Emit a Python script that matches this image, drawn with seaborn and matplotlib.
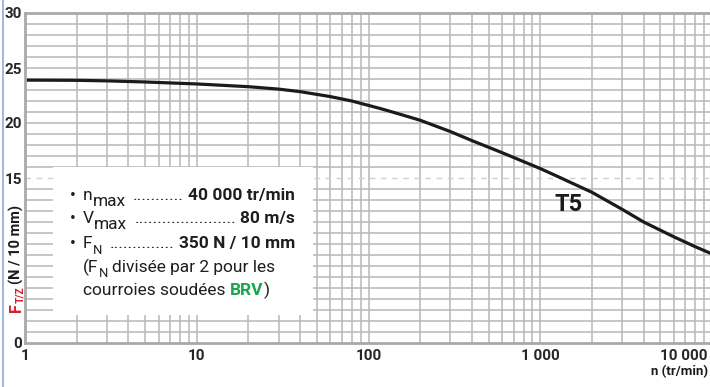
import matplotlib
matplotlib.use("Agg")
import matplotlib.pyplot as plt
from matplotlib import font_manager
from matplotlib.lines import Line2D
from matplotlib.patches import Rectangle
from matplotlib.ticker import LogLocator, NullFormatter
from matplotlib.transforms import ScaledTranslation
import seaborn as sns
import pandas as pd

# Speed (tr/min) and tangential force per tooth (N / 10 mm) for belt T5
speed_rpm = [1, 2, 3, 5, 10, 20, 30, 40, 60, 80, 100, 120, 150, 200, 300,
             400, 600, 1000, 1300, 1500, 2000, 3000, 4000, 6000, 8000, 10000]
force_n = [23.9, 23.88, 23.83, 23.73, 23.55, 23.3, 23.08, 22.85, 22.4, 22.0,
           21.6, 21.27, 20.83, 20.25, 19.22, 18.4, 17.3, 15.86, 15.05, 14.6,
           13.7, 12.15, 11.0, 9.65, 8.75, 8.1]

x_ticks = [1, 10, 100, 1000, 10000]
x_tick_labels = ["1", "10", "100", "1 000", "10 000"]
y_ticks = [0, 15, 20, 25, 30]
y_tick_labels = ["0", "15", "20", "25", "30"]

curve_label = "T5"
spec_lines = [
    ("n", "max", "40 000 tr/min"),
    ("V", "max", "80 m/s"),
    ("F", "N", "350 N / 10 mm"),
]
# gap (px) left between the symbol and its leader dots
dot_gaps = [7, 4, 8]
note_line1 = ("(F", "N", "divisée par 2 pour les")
note_line2 = ("courroies soudées", "BRV", ")")

W, H = 710, 387

sns.set_style("white")


def pick_family():
    for name in ["Liberation Sans Narrow", "Roboto", "Liberation Sans"]:
        try:
            font_manager.findfont(name, fallback_to_default=False)
            return name
        except Exception:
            continue
    return "DejaVu Sans"


FAM = pick_family()
plt.rcParams["font.family"] = [FAM, "DejaVu Sans"]

fig = plt.figure(figsize=(W / 100, H / 100), dpi=100)
fig.patch.set_facecolor("white")

# axes: x from 25 px to 712 px, y from 13 px to 343 px
ax = fig.add_axes([25 / W, (H - 343) / H, 687 / W, 330 / H])
ax.set_facecolor("white")

df = pd.DataFrame({"n": speed_rpm, "F": force_n})
sns.lineplot(data=df, x="n", y="F", ax=ax, color="#1b1b1b", linewidth=2.3,
             zorder=5)

ax.set_xscale("log")
ax.set_xlim(1, 10000)
ax.set_ylim(0, 30)

# grid
grid_col = "#bababa"
for v in range(1, 30):
    if v == 15:
        ax.axhline(v, color="#cfcfcf", lw=1.0, ls=(0, (4, 4)), zorder=1)
    else:
        ax.axhline(v, color=grid_col, lw=1.15, zorder=1)
ax.xaxis.set_minor_locator(LogLocator(base=10, subs=range(2, 10), numticks=20))
ax.xaxis.set_minor_formatter(NullFormatter())
ax.grid(axis="x", which="both", color=grid_col, lw=1.15, zorder=1)
ax.grid(axis="y", which="both", visible=False)
ax.set_axisbelow(True)

# white info panel over the grid
ax.add_patch(Rectangle((28 / 687, 28 / 330), 260 / 687, 148 / 330,
                       transform=ax.transAxes, facecolor="white",
                       edgecolor="none", zorder=3))

for side in ["left", "bottom", "top"]:
    ax.spines[side].set_color("#a9a9a9")
    ax.spines[side].set_linewidth(2.0)
    ax.spines[side].set_zorder(6)
ax.spines["right"].set_visible(False)

ax.set_xticks(x_ticks)
ax.set_xticklabels(x_tick_labels, fontsize=11, fontweight="bold")
ax.set_yticks(y_ticks)
ax.set_yticklabels(y_tick_labels, fontsize=11, fontweight="bold")
ax.tick_params(axis="both", which="both", length=0)
ax.tick_params(axis="x", pad=4.5)
ax.tick_params(axis="y", pad=2)
last = ax.get_xticklabels()[-1]
last.set_horizontalalignment("right")
last.set_transform(last.get_transform()
                   + ScaledTranslation(-4 / 100, 0, fig.dpi_scale_trans))
ax.set_xlabel("")
ax.set_ylabel("")

# curve name
ax.text(1470, 12.55, curve_label, fontsize=17, fontweight="bold",
        ha="center", va="center", color="#1b1b1b", zorder=6)


def px(x, y):
    return x / W, 1 - y / H


fs = 12.5
txt_col = "#1e1e1e"
fig.canvas.draw()
r = fig.canvas.get_renderer()

# average advance of one leader dot
probe = fig.text(0, 0, "." * 40, fontsize=fs)
dot_w = probe.get_window_extent(r).width / 40
probe.remove()

baselines = [200, 223, 248]
for (main, sub, val), yb, gap in zip(spec_lines, baselines, dot_gaps):
    fig.text(*px(70, yb), "•", fontsize=fs, color=txt_col, va="baseline")
    t = fig.text(*px(83, yb), main, fontsize=fs, color=txt_col,
                 va="baseline")
    x = 83 + t.get_window_extent(r).width
    sub_fs = fs if sub == "max" else fs * 0.75
    s = fig.text(*px(x, yb + 6), sub, fontsize=sub_fs, color=txt_col,
                 va="baseline")
    x += s.get_window_extent(r).width + gap
    v = fig.text(*px(295, yb), val, fontsize=fs, fontweight="bold",
                 color=txt_col, ha="right", va="baseline")
    stop = 295 - v.get_window_extent(r).width - 4
    count = max(3, int((stop - x) / dot_w))
    # leader dots end just before the value
    fig.text(*px(stop, yb), "." * count, fontsize=fs, color=txt_col,
             ha="right", va="baseline")

t = fig.text(*px(83, 272), note_line1[0], fontsize=fs, color=txt_col,
             va="baseline")
x = 83 + t.get_window_extent(r).width
s = fig.text(*px(x, 277), note_line1[1], fontsize=fs * 0.75, color=txt_col,
             va="baseline")
x += s.get_window_extent(r).width + 4
fig.text(*px(x, 272), note_line1[2], fontsize=fs, color=txt_col,
         va="baseline")

t = fig.text(*px(83, 295), note_line2[0], fontsize=fs, color=txt_col,
             va="baseline")
x = 83 + t.get_window_extent(r).width + 4
b = fig.text(*px(x, 295), note_line2[1], fontsize=fs, fontweight="bold",
             color="#16a74a", va="baseline")
x += b.get_window_extent(r).width + 1
fig.text(*px(x, 295), note_line2[2], fontsize=fs, color=txt_col,
         va="baseline")

# rotated y-axis title
red = "#d3212d"
f1 = fig.text(*px(21, 312), "F", fontsize=11.5, fontweight="bold", color=red,
              rotation=90, rotation_mode="anchor", ha="left", va="baseline")
y = 312 - f1.get_window_extent(r).height
f2 = fig.text(*px(23, y), "T/Z", fontsize=7.5, fontweight="bold", color=red,
              rotation=90, rotation_mode="anchor", ha="left", va="baseline")
y -= f2.get_window_extent(r).height + 3
fig.text(*px(21, y), "(N / 10 mm)", fontsize=10.5, fontweight="bold",
         color="#1b1b1b", rotation=90, rotation_mode="anchor", ha="left",
         va="baseline")

# x-axis title
fig.text(*px(708, 372), "n (tr/min)", fontsize=9.5, fontweight="bold",
         color="#1b1b1b", ha="right", va="center")

# thin frame line on the left edge
fig.add_artist(Line2D([2.5 / W, 2.5 / W], [0, 1], transform=fig.transFigure,
                      color="#9db9dd", lw=1.4))

fig.savefig("out.png", dpi=100, facecolor="white")
